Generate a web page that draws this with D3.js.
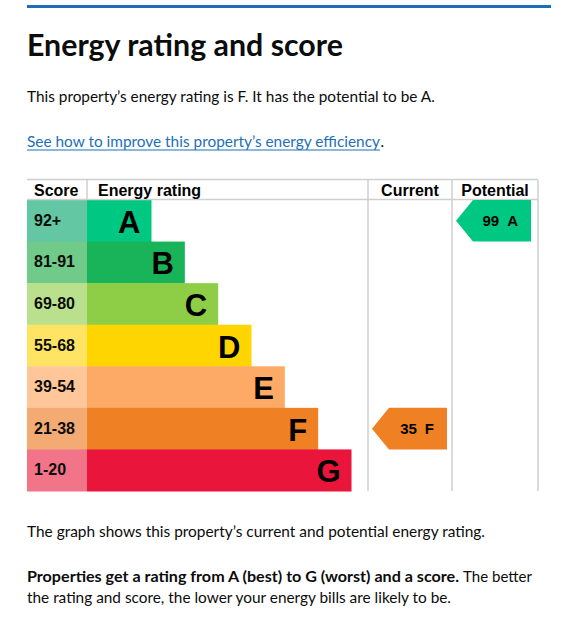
<!DOCTYPE html>
<html><head><meta charset="utf-8">
<script src="https://cdn.jsdelivr.net/npm/d3@7"></script>
<style>html,body{margin:0;padding:0;background:#fff;}svg{display:block;}</style>
</head><body>
<svg id="c" width="573" height="636"></svg>
<script>
// ---- data ----
const bands = ["A","B","C","D","E","F","G"];
const scoreRanges = ["92+","81-91","69-80","55-68","39-54","21-38","1-20"];
const barColors = ["#00c781","#19b459","#8dce46","#ffd500","#fcaa65","#ef8023","#e9153b"];
const scoreColors = ["#62c7a2","#70ca8a","#bae08d","#ffe463","#ffc799","#f4aa73","#f27489"];
const columns = ["Score","Energy rating","Current","Potential"];
const currentRating = {score: 35, band: "F"};
const potentialRating = {score: 99, band: "A"};
const ink = "#0b0c0c", link = "#1d70b8", grid = "#cfcfcf";

const svg = d3.select("#c");
const bodyFont = "Lato, 'Noto Sans', sans-serif";
const tableFont = "'Liberation Sans', Arial, sans-serif";

// ---- top rule ----
svg.append("rect").attr("x",27).attr("y",5).attr("width",524).attr("height",3).attr("fill",link);

function fitText(sel, width){
  const w = sel.node().getComputedTextLength();
  const fs = parseFloat(sel.attr("font-size"));
  sel.attr("font-size", fs*width/w);
  return sel;
}
function setLen(sel, width){
  sel.attr("textLength", width).attr("lengthAdjust","spacingAndGlyphs");
  return sel;
}

// heading
const h = svg.append("text").attr("x",27).attr("y",56).attr("font-family",bodyFont)
  .attr("font-weight",700).attr("font-size",28).attr("fill",ink).text("Energy rating and score");
fitText(h, 316);

// paragraph 1
const p1 = svg.append("text").attr("x",27).attr("y",102).attr("font-family",bodyFont)
  .attr("font-size",16).attr("fill",ink).text("This property\u2019s energy rating is F. It has the potential to be A.");
fitText(p1, 408);
const bodySize = parseFloat(p1.attr("font-size"));

// link
const lk = svg.append("text").attr("x",27).attr("y",147).attr("font-family",bodyFont)
  .attr("font-size",bodySize).attr("fill",link).text("See how to improve this property\u2019s energy efficiency");
setLen(lk, 353);
svg.append("rect").attr("x",27).attr("y",149.5).attr("width",353).attr("height",1).attr("fill",link);
svg.append("text").attr("x",380.5).attr("y",147).attr("font-family",bodyFont)
  .attr("font-size",bodySize).attr("fill",ink).text(".");

// ---- table ----
const colX = [27, 87, 368, 452, 538];
const headerTop = 180, headerBottom = 200, tableBottom = 491;
const y = d3.scaleBand().domain(bands).range([headerBottom, tableBottom]).padding(0);
const barEnd = d3.scaleLinear().domain([0, bands.length-1]).range([151.5, 351.5]);

const g = svg.append("g");
g.selectAll("rect.score").data(bands).join("rect")
  .attr("x", colX[0]).attr("y", d=>y(d)).attr("width", colX[1]-colX[0]).attr("height", y.bandwidth()+0.5)
  .attr("fill", (d,i)=>scoreColors[i]);
g.selectAll("rect.bar").data(bands).join("rect")
  .attr("x", colX[1]).attr("y", d=>y(d)).attr("width", (d,i)=>barEnd(i)-colX[1]).attr("height", y.bandwidth()+0.5)
  .attr("fill", (d,i)=>barColors[i]);
g.selectAll("text.score").data(bands).join("text")
  .attr("x", 34).attr("y", d=>y(d)+y.bandwidth()/2+5)
  .attr("font-family", tableFont).attr("font-weight",700).attr("font-size",16).attr("fill",ink)
  .text((d,i)=>scoreRanges[i]);
g.selectAll("text.band").data(bands).join("text")
  .attr("x", (d,i)=>barEnd(i)-11).attr("y", d=>y(d)+y.bandwidth()/2+12)
  .attr("text-anchor","end")
  .attr("font-family", tableFont).attr("font-weight",700).attr("font-size",31).attr("fill","#000")
  .text(d=>d);

// grid lines
const gl = svg.append("g").attr("stroke", grid).attr("stroke-width",1.5).attr("fill","none");
gl.append("line").attr("x1",colX[0]).attr("x2",colX[4]).attr("y1",headerTop-0.5).attr("y2",headerTop-0.5);
gl.append("line").attr("x1",colX[0]).attr("x2",colX[4]).attr("y1",headerBottom-0.5).attr("y2",headerBottom-0.5);
gl.append("line").attr("x1",colX[1]).attr("x2",colX[1]).attr("y1",headerTop).attr("y2",headerBottom);
[colX[2], colX[3], colX[4]].forEach(x=>{
  gl.append("line").attr("x1",x).attr("x2",x).attr("y1",headerTop).attr("y2",tableBottom);
});

// headers
const headerX = [34, 98, (colX[2]+colX[3])/2, (colX[3]+colX[4])/2];
const headerAnchor = ["start","start","middle","middle"];
svg.selectAll("text.hdr").data(columns).join("text")
  .attr("x",(d,i)=>headerX[i]).attr("y",196).attr("text-anchor",(d,i)=>headerAnchor[i])
  .attr("font-family",tableFont).attr("font-weight",700).attr("font-size",16).attr("fill","#000")
  .text(d=>d);

// arrows
function arrow(rating, x0, x1){
  const i = bands.indexOf(rating.band);
  const top = y(rating.band), bot = top + y.bandwidth(), mid = (top+bot)/2;
  const tip = 17;
  const path = d3.path();
  path.moveTo(x0, mid); path.lineTo(x0+tip, top); path.lineTo(x1, top);
  path.lineTo(x1, bot); path.lineTo(x0+tip, bot); path.closePath();
  svg.append("path").attr("d", path.toString()).attr("fill", barColors[i]);
  const t = svg.append("text").attr("x", x1-13).attr("y", mid+5.4).attr("text-anchor","end")
    .attr("font-family",tableFont).attr("font-weight",700).attr("font-size",15).attr("fill","#000");
  t.append("tspan").text(rating.score);
  t.append("tspan").attr("dx",8).text(rating.band);
}
arrow(currentRating, 372, 447);
arrow(potentialRating, 456, 531);

// ---- bottom text ----
const p2 = svg.append("text").attr("x",27).attr("y",537).attr("font-family",bodyFont)
  .attr("font-size",bodySize).attr("fill",ink).text("The graph shows this property\u2019s current and potential energy rating.");
setLen(p2, 458);

const p3b = svg.append("text").attr("x",27).attr("y",582).attr("font-family",bodyFont)
  .attr("font-size",bodySize).attr("font-weight",700).attr("fill",ink)
  .text("Properties get a rating from A (best) to G (worst) and a score.");
setLen(p3b, 432);
const p3r = svg.append("text").attr("x",463).attr("y",582).attr("font-family",bodyFont)
  .attr("font-size",bodySize).attr("fill",ink).text("The better");
setLen(p3r, 69);
const p4 = svg.append("text").attr("x",27).attr("y",603).attr("font-family",bodyFont)
  .attr("font-size",bodySize).attr("fill",ink).text("the rating and score, the lower your energy bills are likely to be.");
setLen(p4, 424);
</script>
</body></html>
